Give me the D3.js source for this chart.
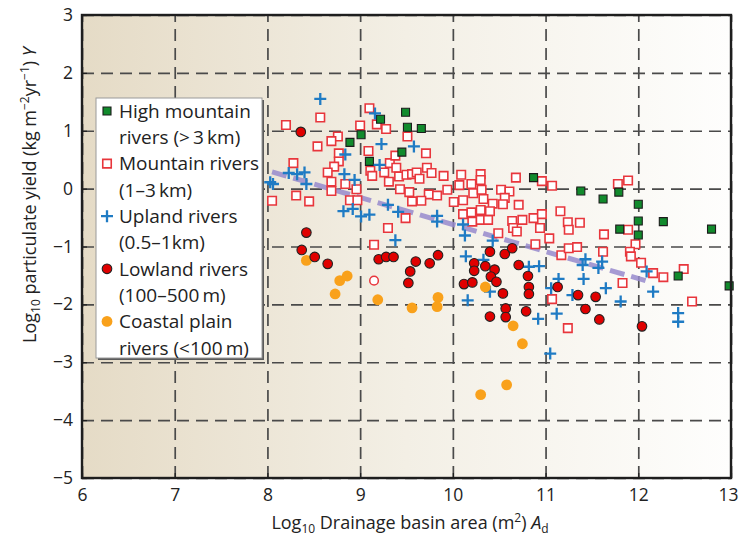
<!DOCTYPE html>
<html>
<head>
<meta charset="utf-8">
<script src="https://cdn.jsdelivr.net/npm/d3@7"></script>
<style>
  body { margin: 0; background: #fff; }
  svg { display: block; }
  text { font-family: "Open Sans", Lato, sans-serif; fill: #222; }
</style>
</head>
<body>
<svg id="chart" width="740" height="543"></svg>
<script>
// Axis ticks
const xTicks = [6, 7, 8, 9, 10, 11, 12, 13];
const yTicks = [3, 2, 1, 0, -1, -2, -3, -4, -5];

// [log10 area, log10 yield] per river class
const highMountain = [
  [9.49, 1.32], [9.22, 1.20], [9.51, 1.06], [9.66, 1.04], [9.01, 0.93], [8.89, 0.80],
  [9.45, 0.63], [9.10, 0.47], [10.87, 0.19], [11.38, -0.04], [11.62, -0.18], [11.79, -0.06],
  [12.00, -0.27], [12.00, -0.56], [12.27, -0.57], [12.79, -0.70], [11.80, -0.70], [12.00, -0.80],
  [12.43, -1.51], [12.98, -1.68]
];
const mountain = [
  [8.20, 1.10], [8.57, 1.23], [9.10, 1.39], [9.18, 1.11], [9.28, 1.03], [9.00, 1.09],
  [8.76, 0.90], [8.69, 0.82], [8.54, 0.73], [8.77, 0.61], [8.77, 0.47], [8.72, 0.38],
  [8.65, 0.28], [8.69, 0.12], [8.69, -0.04], [8.84, 0.08], [8.96, -0.01], [8.89, -0.20],
  [8.97, -0.20], [8.28, 0.44], [8.31, -0.12], [8.45, -0.22], [8.05, -0.21], [9.09, 0.65],
  [9.11, 0.31], [9.13, 0.22], [9.26, 0.28], [9.31, 0.12], [9.32, 0.44], [9.38, 0.57],
  [9.39, 0.36], [9.42, 0.21], [9.50, 0.24], [9.56, 0.25], [9.51, 0.90], [9.43, -0.01],
  [9.53, -0.06], [9.56, -0.22], [9.49, -0.51], [9.30, -0.68], [9.15, -0.97], [9.61, 0.28],
  [9.71, 0.61], [9.72, 0.36], [9.77, 0.27], [9.90, 0.22], [9.64, 0.17], [10.09, 0.24],
  [10.30, 0.25], [10.30, 0.15], [10.20, 0.08], [10.07, 0.06], [10.68, 0.19], [10.96, 0.13],
  [11.07, 0.05], [9.94, -0.02], [9.74, -0.10], [9.83, -0.12], [9.66, -0.21], [10.01, -0.23],
  [10.11, -0.20], [10.22, -0.08], [10.31, -0.02], [10.33, -0.18], [10.43, -0.26], [10.52, -0.02],
  [10.61, -0.05], [10.56, -0.16], [10.54, -0.27], [10.71, -0.28], [10.11, -0.44], [10.20, -0.41],
  [10.30, -0.37], [10.40, -0.39], [10.21, -0.57], [10.30, -0.54], [10.38, -0.54], [10.64, -0.56],
  [10.75, -0.54], [10.65, -0.68], [10.69, -0.74], [10.87, -0.51], [10.96, -0.44], [10.94, -0.68],
  [11.16, -0.39], [11.24, -0.58], [11.25, -0.71], [10.49, -0.77], [11.04, -0.86], [10.89, -0.96],
  [11.37, -0.59], [11.78, 0.08], [11.89, 0.14], [11.63, -0.79], [11.89, -0.71], [11.97, -0.96],
  [11.17, -1.15], [11.25, -1.03], [11.34, -1.01], [11.07, -1.91], [11.24, -2.41], [11.62, -1.09],
  [11.91, -1.09], [11.92, -1.17], [12.03, -1.28], [12.16, -1.46], [12.27, -1.53], [12.49, -1.39],
  [11.83, -1.63], [12.58, -1.95]
];
const upland = [
  [8.57, 1.55], [9.16, 1.30], [9.23, 0.77], [9.58, 0.73], [8.84, 0.59], [9.21, 0.41],
  [8.23, 0.27], [8.32, 0.25], [8.40, 0.28], [8.03, 0.11], [8.06, 0.08], [8.42, 0.08],
  [8.83, 0.25], [8.94, 0.15], [8.82, -0.39], [8.92, -0.35], [9.01, -0.48], [9.10, -0.45],
  [9.30, -0.28], [9.41, -0.40], [9.38, -0.89], [9.83, -0.47], [9.83, -0.57], [10.11, -0.62],
  [10.13, -0.81], [10.43, -0.90], [10.14, -1.17], [10.33, -1.23], [10.82, -1.35], [10.93, -1.34],
  [10.40, -1.78], [10.16, -1.93], [11.14, -1.56], [11.06, -1.72], [11.29, -1.84], [10.92, -2.25],
  [11.12, -2.16], [11.05, -2.85], [11.43, -1.22], [11.40, -1.32], [11.61, -1.26], [11.57, -1.37],
  [11.41, -1.56], [11.65, -1.72], [11.81, -1.95], [12.09, -1.43], [12.16, -1.78], [12.43, -2.15],
  [12.43, -2.30]
];
const lowland = [
  [8.36, 0.98], [8.42, -0.76], [8.37, -1.06], [8.51, -1.18], [8.65, -1.30], [9.20, -1.22],
  [9.28, -1.18], [9.36, -1.18], [9.60, -1.26], [9.54, -1.43], [9.52, -1.63], [9.75, -1.29],
  [9.84, -1.15], [10.40, -1.09], [10.56, -1.13], [10.64, -1.03], [10.23, -1.29], [10.23, -1.42],
  [10.35, -1.34], [10.45, -1.40], [10.41, -1.52], [10.47, -1.61], [10.12, -1.65], [10.21, -1.62],
  [10.54, -1.81], [10.71, -1.32], [10.81, -1.51], [10.82, -1.70], [10.82, -1.82], [10.57, -2.07],
  [10.57, -2.22], [10.40, -2.21], [10.79, -2.12], [11.13, -1.70], [11.35, -1.84], [11.54, -1.87],
  [11.43, -2.08], [11.58, -2.26], [12.04, -2.38]
];
const lowlandOpen = [[9.15, -1.59]];
const coastal = [
  [8.42, -1.24], [8.78, -1.59], [8.86, -1.51], [8.73, -1.82], [9.19, -1.92], [9.56, -2.06],
  [9.84, -1.88], [9.83, -2.04], [10.35, -1.70], [10.65, -2.37], [10.75, -2.68], [10.58, -3.39],
  [10.30, -3.56]
];
// Fitted trend
const trendLine = [[8.05, 0.29], [12.1, -1.6]];

const legendLabels = [
  ["High mountain", "rivers (>\u20093\u2009km)"],
  ["Mountain rivers", "(1\u20133\u2009km)"],
  ["Upland rivers", "(0.5\u20131km)"],
  ["Lowland rivers", "(100\u2013500\u2009m)"],
  ["Coastal plain", "rivers (<100\u2009m)"]
];

const svg = d3.select("#chart");
const plot = { left: 82, right: 731, top: 15, bottom: 478 };
const x = d3.scaleLinear().domain([6, 13]).range([plot.left, plot.right]);
const y = d3.scaleLinear().domain([-5, 3]).range([plot.bottom, plot.top]);

// Background wash: tan on the small-basin side fading to white
const defs = svg.append("defs");
const grad = defs.append("linearGradient").attr("id", "bg").attr("x1", "0").attr("x2", "1").attr("y1", "0").attr("y2", "0");
grad.append("stop").attr("offset", "0").attr("stop-color", "rgb(229,219,198)");
grad.append("stop").attr("offset", "0.5").attr("stop-color", "rgb(243,239,229)");
grad.append("stop").attr("offset", "1").attr("stop-color", "rgb(254,254,253)");
svg.append("rect")
  .attr("x", plot.left).attr("y", plot.top)
  .attr("width", plot.right - plot.left).attr("height", plot.bottom - plot.top)
  .attr("fill", "url(#bg)");

// Dashed grid
const gridX = svg.append("g")
  .attr("transform", `translate(0,${plot.bottom})`)
  .call(d3.axisBottom(x).tickValues(xTicks).tickSize(-(plot.bottom - plot.top)).tickFormat(""));
const gridY = svg.append("g")
  .attr("transform", `translate(${plot.left},0)`)
  .call(d3.axisLeft(y).tickValues(yTicks).tickSize(-(plot.right - plot.left)).tickFormat(""));
[gridX, gridY].forEach(g => {
  g.select(".domain").remove();
  g.selectAll(".tick line")
    .attr("stroke", "#4a4a4a").attr("stroke-width", 1.7)
    .attr("stroke-dasharray", "12,7");
});

// Trend line
svg.append("path")
  .datum(trendLine)
  .attr("d", d3.line().x(d => x(d[0])).y(d => y(d[1])))
  .attr("fill", "none")
  .attr("stroke", "rgb(150,138,204)")
  .attr("stroke-opacity", 0.85)
  .attr("stroke-width", 5)
  .attr("stroke-dasharray", "15,7");

// Marker drawers
const sq = d3.symbol(d3.symbolSquare, 72);
function crossPath(cx, cy, r) {
  return `M${cx - r},${cy}H${cx + r}M${cx},${cy - r}V${cy + r}`;
}
function drawMountain(g, pts) {
  g.selectAll(null).data(pts).join("path")
    .attr("d", sq)
    .attr("transform", d => `translate(${x(d[0])},${y(d[1])})`)
    .attr("fill", "#fff").attr("stroke", "#e8363c").attr("stroke-width", 1.6);
}
function drawHigh(g, pts) {
  g.selectAll(null).data(pts).join("path")
    .attr("d", d3.symbol(d3.symbolSquare, 64))
    .attr("transform", d => `translate(${x(d[0])},${y(d[1])})`)
    .attr("fill", "#118a2c").attr("stroke", "#1c1c1c").attr("stroke-width", 1.1);
}
function drawUpland(g, pts) {
  g.selectAll(null).data(pts).join("path")
    .attr("d", d => crossPath(x(d[0]), y(d[1]), 6))
    .attr("fill", "none").attr("stroke", "#1f7bc4").attr("stroke-width", 2.3);
}
function drawCoastal(g, pts) {
  g.selectAll(null).data(pts).join("circle")
    .attr("cx", d => x(d[0])).attr("cy", d => y(d[1])).attr("r", 5.4)
    .attr("fill", "#f9a11b");
}
function drawLowland(g, pts) {
  g.selectAll(null).data(pts).join("circle")
    .attr("cx", d => x(d[0])).attr("cy", d => y(d[1])).attr("r", 4.8)
    .attr("fill", "#e00000").attr("stroke", "#222").attr("stroke-width", 1.1);
}

const marks = svg.append("g");
drawMountain(marks.append("g"), mountain);
drawHigh(marks.append("g"), highMountain);
drawUpland(marks.append("g"), upland);
drawCoastal(marks.append("g"), coastal);
drawLowland(marks.append("g"), lowland);
marks.append("g").selectAll(null).data(lowlandOpen).join("circle")
  .attr("cx", d => x(d[0])).attr("cy", d => y(d[1])).attr("r", 4.3)
  .attr("fill", "#fff").attr("stroke", "#e8363c").attr("stroke-width", 1.5);

// Legend
const lg = svg.append("g");
const lgBox = { x: 96, y: 98, w: 166, h: 260 };
lg.append("rect").attr("x", lgBox.x + 2).attr("y", lgBox.y + 2)
  .attr("width", lgBox.w).attr("height", lgBox.h).attr("fill", "#5a5a5a");
lg.append("rect").attr("x", lgBox.x).attr("y", lgBox.y)
  .attr("width", lgBox.w).attr("height", lgBox.h)
  .attr("fill", "#fff").attr("stroke", "#9a9a9a").attr("stroke-width", 1);
const rowY = i => 111 + i * 52.6;
const lineGap = 26.3;
const mk = 107;
lg.append("path").attr("d", d3.symbol(d3.symbolSquare, 64))
  .attr("transform", `translate(${mk},${rowY(0)})`)
  .attr("fill", "#118a2c").attr("stroke", "#1c1c1c").attr("stroke-width", 1.1);
lg.append("path").attr("d", sq)
  .attr("transform", `translate(${mk},${rowY(1)})`)
  .attr("fill", "#fff").attr("stroke", "#e8363c").attr("stroke-width", 1.6);
lg.append("path").attr("d", crossPath(mk, rowY(2), 6))
  .attr("stroke", "#1f7bc4").attr("stroke-width", 2.3);
lg.append("circle").attr("cx", mk).attr("cy", rowY(3)).attr("r", 4.8)
  .attr("fill", "#e00000").attr("stroke", "#222").attr("stroke-width", 1.1);
lg.append("circle").attr("cx", mk).attr("cy", rowY(4)).attr("r", 5.4)
  .attr("fill", "#f9a11b");
legendLabels.forEach((lines, i) => {
  lines.forEach((t, j) => {
    lg.append("text")
      .attr("x", 119).attr("y", rowY(i) + j * lineGap)
      .attr("dy", "0.36em")
      .attr("font-size", 19)
      .text(t);
  });
});

// Frame
svg.append("rect")
  .attr("x", plot.left).attr("y", plot.top)
  .attr("width", plot.right - plot.left).attr("height", plot.bottom - plot.top)
  .attr("fill", "none").attr("stroke", "#1e1e1e").attr("stroke-width", 2.4);

// Tick labels with short inward ticks
const xAxis = svg.append("g")
  .attr("transform", `translate(0,${plot.bottom})`)
  .call(d3.axisBottom(x).tickValues(xTicks).tickSizeInner(-5).tickSizeOuter(0).tickPadding(11)
    .tickFormat(d3.format("d")));
const yAxis = svg.append("g")
  .attr("transform", `translate(${plot.left},0)`)
  .call(d3.axisLeft(y).tickValues(yTicks).tickSizeInner(-5).tickSizeOuter(0).tickPadding(9)
    .tickFormat(d => d < 0 ? "\u2212" + Math.abs(d) : String(d)));
[xAxis, yAxis].forEach(g => {
  g.select(".domain").remove();
  g.selectAll(".tick line").attr("stroke", "#1e1e1e").attr("stroke-width", 1.2);
  g.selectAll(".tick text").attr("font-size", 17.5).attr("fill", "#2a2a2a")
    .attr("font-family", "'Open Sans', Lato, sans-serif");
});
// keep the last x label inside the page edge
xAxis.selectAll(".tick text").filter(d => d === 13).attr("dx", -3);

// Axis titles
const xt = svg.append("text")
  .attr("x", 410).attr("y", 529)
  .attr("text-anchor", "middle").attr("font-size", 18);
xt.append("tspan").text("Log");
xt.append("tspan").attr("font-size", 12).attr("dy", 4).text("10");
xt.append("tspan").attr("dy", -4).text(" Drainage basin area (m");
xt.append("tspan").attr("font-size", 12).attr("dy", -7).text("2");
xt.append("tspan").attr("dy", 7).text(") ");
xt.append("tspan").attr("font-style", "italic").text("A");
xt.append("tspan").attr("font-size", 12).attr("dy", 4).text("d");

const yt = svg.append("text")
  .attr("transform", "translate(36,195) rotate(-90)")
  .attr("text-anchor", "middle").attr("font-size", 18);
yt.append("tspan").text("Log");
yt.append("tspan").attr("font-size", 12).attr("dy", 4).text("10");
yt.append("tspan").attr("dy", -4).text(" particulate yield (kg m");
yt.append("tspan").attr("font-size", 12).attr("dy", -7).text("\u22122");
yt.append("tspan").attr("dy", 7).text("yr");
yt.append("tspan").attr("font-size", 12).attr("dy", -7).text("\u22121");
yt.append("tspan").attr("dy", 7).text(") ");
yt.append("tspan").attr("font-style", "italic").text("Y");
</script>
</body>
</html>
